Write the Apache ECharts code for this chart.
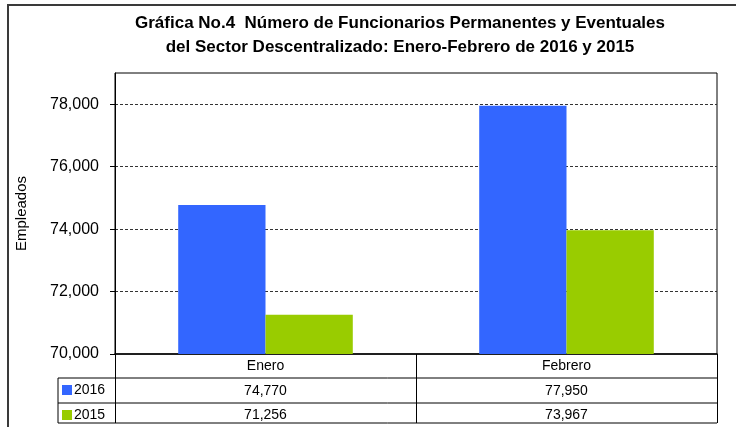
<!DOCTYPE html>
<html>
<head>
<meta charset="utf-8">
<script src="https://cdn.jsdelivr.net/npm/echarts@6/dist/echarts.min.js"></script>
<style>
html,body{margin:0;padding:0;background:#fff;}
#chart{width:736px;height:427px;}
</style>
</head>
<body>
<div id="chart"></div>
<script>
// ---- data ----
const titleLines = ['Gráfica No.4  Número de Funcionarios Permanentes y Eventuales', 'del Sector Descentralizado: Enero-Febrero de 2016 y 2015'];
const categories = ['Enero', 'Febrero'];
const seriesNames = ['2016', '2015'];
const values2016 = [74770, 77950];
const values2015 = [71256, 73967];
const yTicks = [70000, 72000, 74000, 76000, 78000];
const yAxisName = 'Empleados';

// ---- layout constants ----
const W = 736, H = 427;
const gridLeft = 115, gridRight = 19, gridTop = 73, gridBottom = 73;
const plotR = W - gridRight, plotB = H - gridBottom;
const legendColX = 58;
const row1 = 24, row2 = 25, row3 = 20;
const FONT = '"Liberation Sans", Arial, sans-serif';
const fmt = v => v.toLocaleString('en-US');
const colors = ['#3366FF', '#99CC00'];

const chart = echarts.init(document.getElementById('chart'), null, {renderer: 'canvas'});

const yLine1 = plotB + row1, yLine2 = yLine1 + row2, yLine3 = yLine2 + row3;

const option = {
  animation: false,
  backgroundColor: '#fff',
  color: colors,
  textStyle: {fontFamily: FONT},
  title: {
    text: titleLines.join('\n'),
    left: 400, top: 11,
    textAlign: 'center',
    padding: 0,
    textStyle: {fontFamily: FONT, fontSize: 17, fontWeight: 'bold', color: '#000', lineHeight: 24}
  },
  legend: [
    {data: [seriesNames[0]], left: 62, top: yLine1 + 5, orient: 'vertical', padding: 0,
     itemWidth: 10, itemHeight: 10, icon: 'rect',
     textStyle: {fontFamily: FONT, fontSize: 14, color: '#000', padding: [0,0,0,-3]}},
    {data: [seriesNames[1]], left: 62, top: yLine2 + 5, orient: 'vertical', padding: 0,
     itemWidth: 10, itemHeight: 10, icon: 'rect',
     textStyle: {fontFamily: FONT, fontSize: 14, color: '#000', padding: [0,0,0,-3]}}
  ],
  grid: {left: gridLeft, right: gridRight, top: gridTop, bottom: gridBottom,
         show: true, borderColor: '#000', borderWidth: 1, backgroundColor: 'transparent'},
  xAxis: [
    {type: 'category', data: categories, position: 'bottom',
     axisLine: {show: true, lineStyle: {color: '#000', width: 1.5}},
     axisTick: {show: true, alignWithLabel: false, interval: 0, length: row1 + row2 + row3, lineStyle: {color: '#000', width: 1}},
     axisLabel: {margin: 5, fontSize: 14, color: '#000', fontFamily: FONT},
     splitLine: {show: false}},
    {type: 'category', data: values2016.map(fmt), position: 'bottom',
     axisLine: {show: false}, axisTick: {show: false},
     axisLabel: {margin: row1 + 6, fontSize: 14, color: '#000', fontFamily: FONT}},
    {type: 'category', data: values2015.map(fmt), position: 'bottom',
     axisLine: {show: false}, axisTick: {show: false},
     axisLabel: {margin: row1 + row2 + 5, fontSize: 14, color: '#000', fontFamily: FONT}}
  ],
  yAxis: {
    type: 'value', min: yTicks[0], max: 79000, interval: 2000,
    name: yAxisName, nameLocation: 'middle', nameGap: 86, nameRotate: 90,
    nameTextStyle: {fontFamily: FONT, fontSize: 15, color: '#000'},
    axisLine: {show: true, lineStyle: {color: '#000', width: 1}},
    axisTick: {show: true, length: 5, lineStyle: {color: '#000'}},
    axisLabel: {margin: 16, fontSize: 16, color: '#000', fontFamily: FONT,
                showMaxLabel: false, formatter: v => yTicks.indexOf(v) >= 0 ? fmt(v) : ''},
    splitLine: {show: true, showMinLine: false, showMaxLine: false, lineStyle: {color: '#333', type: [3, 2], width: 1}}
  },
  series: [
    {name: seriesNames[0], type: 'bar', xAxisIndex: 0, data: values2016,
     barGap: '0%', barCategoryGap: '42%', itemStyle: {color: colors[0]}},
    {name: seriesNames[1], type: 'bar', xAxisIndex: 0, data: values2015,
     barGap: '0%', barCategoryGap: '42%', itemStyle: {color: colors[1]}}
  ],
  graphic: [
    {type: 'rect', shape: {x: 8, y: 5, width: 900, height: 600}, style: {fill: 'none', stroke: '#3a3a3a', lineWidth: 2}, silent: true},
    {type: 'line', shape: {x1: legendColX, y1: yLine1, x2: plotR, y2: yLine1}, style: {stroke: '#000', lineWidth: 1}},
    {type: 'line', shape: {x1: legendColX, y1: yLine2, x2: plotR, y2: yLine2}, style: {stroke: '#000', lineWidth: 1}},
    {type: 'line', shape: {x1: legendColX, y1: yLine3, x2: plotR, y2: yLine3}, style: {stroke: '#000', lineWidth: 1}},
    {type: 'line', shape: {x1: legendColX, y1: yLine1, x2: legendColX, y2: yLine3}, style: {stroke: '#000', lineWidth: 1}}
  ]
};
chart.setOption(option);
</script>
</body>
</html>
